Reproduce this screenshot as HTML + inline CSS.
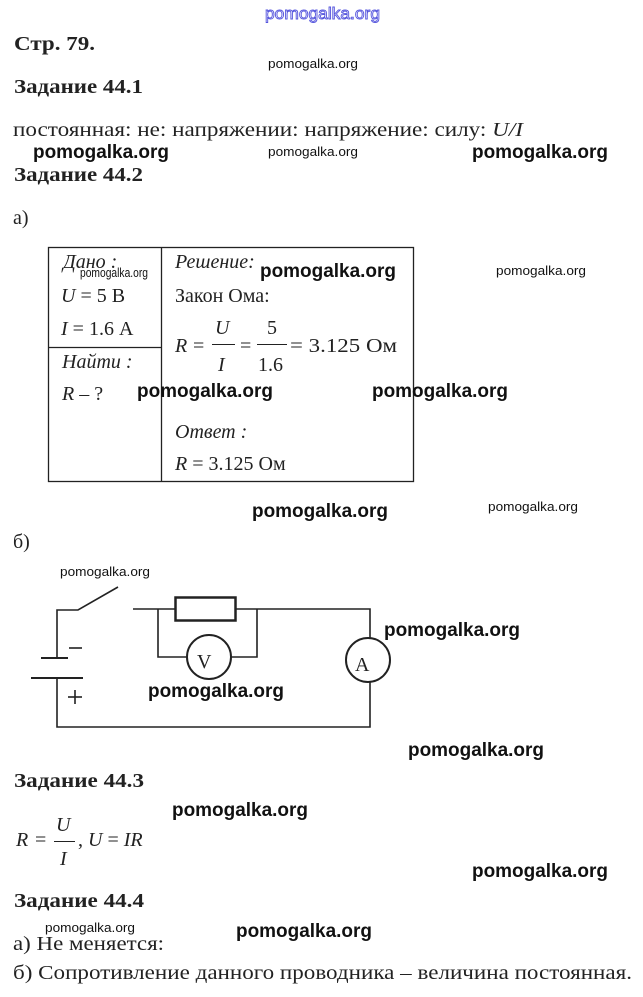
<!DOCTYPE html>
<html><head><meta charset="utf-8"><style>
html,body{margin:0;padding:0;background:#fff;}
svg{display:block;}
.s{font-family:"Liberation Serif",serif;fill:#222;font-size:20px;}
.b{font-weight:bold;}
.i{font-style:italic;}
.w{font-family:"Liberation Sans",sans-serif;font-weight:bold;fill:#111;font-size:19px;}
.ws{font-family:"Liberation Sans",sans-serif;fill:#111;font-size:13px;}
line,rect,circle,polyline{stroke:#222;fill:none;}
</style></head><body>
<svg width="643" height="997" viewBox="0 0 643 997" xmlns="http://www.w3.org/2000/svg">
<text x="265" y="19" font-family="Liberation Sans,sans-serif" font-size="17" fill="#fff" stroke="#5555dd" stroke-width="0.9" textLength="115" lengthAdjust="spacingAndGlyphs">pomogalka.org</text>

<text class="s b" x="14" y="50" font-size="22" textLength="81" lengthAdjust="spacingAndGlyphs">Стр. 79.</text>
<text class="ws" x="268" y="68" textLength="90" lengthAdjust="spacingAndGlyphs">pomogalka.org</text>
<text class="s b" x="14" y="93" font-size="22" textLength="129" lengthAdjust="spacingAndGlyphs">Задание 44.1</text>
<text class="s" x="13" y="136" font-size="21" textLength="510" lengthAdjust="spacingAndGlyphs">постоянная: не: напряжении: напряжение: силу: <tspan class="i">U/I</tspan></text>
<text class="w" x="33" y="158" textLength="136" lengthAdjust="spacingAndGlyphs">pomogalka.org</text>
<text class="ws" x="268" y="156" textLength="90" lengthAdjust="spacingAndGlyphs">pomogalka.org</text>
<text class="w" x="472" y="158" textLength="136" lengthAdjust="spacingAndGlyphs">pomogalka.org</text>
<text class="s b" x="14" y="181" font-size="22" textLength="129" lengthAdjust="spacingAndGlyphs">Задание 44.2</text>
<text class="s" x="13" y="224" font-size="21">а)</text>

<!-- table -->
<g stroke-width="1.3">
<rect x="48.5" y="247.5" width="365" height="234"/>
<line x1="161.5" y1="247" x2="161.5" y2="482"/>
<line x1="48" y1="347.5" x2="161" y2="347.5"/>
</g>
<text class="s i" x="63" y="268" fill="#444">Дано :</text>
<text class="ws" x="80" y="277" font-size="10" textLength="68" lengthAdjust="spacingAndGlyphs">pomogalka.org</text>
<text class="s" x="61" y="302"><tspan class="i">U</tspan> = 5 В</text>
<text class="s" x="61" y="335"><tspan class="i">I</tspan> = 1.6 А</text>
<text class="s i" x="62" y="368" fill="#444">Найти :</text>
<text class="s" x="62" y="400"><tspan class="i">R</tspan> – ?</text>
<text class="s i" x="175" y="268" fill="#444">Решение:</text>
<text class="w" x="260" y="277" textLength="136" lengthAdjust="spacingAndGlyphs">pomogalka.org</text>
<text class="ws" x="496" y="275" textLength="90" lengthAdjust="spacingAndGlyphs">pomogalka.org</text>
<text class="s" x="175" y="302">Закон Ома:</text>
<text class="s i" x="175" y="352">R</text>
<text class="s" x="193" y="352">=</text>
<text class="s i" x="215" y="334">U</text>
<line x1="212" y1="344.5" x2="235" y2="344.5" stroke-width="1"/>
<text class="s i" x="218" y="371">I</text>
<text class="s" x="240" y="352">=</text>
<text class="s" x="267" y="334">5</text>
<line x1="257" y1="344.5" x2="287" y2="344.5" stroke-width="1"/>
<text class="s" x="258" y="371">1.6</text>
<text class="s" x="290" y="352" textLength="107" lengthAdjust="spacingAndGlyphs">= 3.125 Ом</text>
<text class="w" x="137" y="397" textLength="136" lengthAdjust="spacingAndGlyphs">pomogalka.org</text>
<text class="w" x="372" y="397" textLength="136" lengthAdjust="spacingAndGlyphs">pomogalka.org</text>
<text class="s i" x="175" y="438" fill="#444">Ответ :</text>
<text class="s" x="175" y="470"><tspan class="i">R</tspan> = 3.125 Ом</text>

<text class="w" x="252" y="517" textLength="136" lengthAdjust="spacingAndGlyphs">pomogalka.org</text>
<text class="ws" x="488" y="511" textLength="90" lengthAdjust="spacingAndGlyphs">pomogalka.org</text>
<text class="s" x="13" y="548" font-size="21">б)</text>

<!-- circuit -->
<text class="ws" x="60" y="576" textLength="90" lengthAdjust="spacingAndGlyphs">pomogalka.org</text>
<g stroke-width="1.6">
<polyline points="57,658 57,610 78,610 118,587"/>
<line x1="133" y1="609" x2="175" y2="609"/>
<rect x="175.5" y="597.5" width="60" height="23" stroke-width="2.5"/>
<polyline points="236,609 370,609 370,638"/>
<polyline points="370,682 370,727 57,727 57,678"/>
<line x1="41" y1="658" x2="68" y2="658" stroke-width="2"/>
<line x1="31" y1="678" x2="83" y2="678" stroke-width="2"/>
<polyline points="158,609 158,657 187,657"/>
<polyline points="231,657 257,657 257,609"/>
<circle cx="209" cy="657" r="22" stroke-width="2"/>
<circle cx="368" cy="660" r="22" stroke-width="2"/>
<line x1="69" y1="648" x2="82" y2="648"/>
<line x1="68" y1="697" x2="82" y2="697"/>
<line x1="75" y1="690" x2="75" y2="704"/>
</g>
<text class="s" x="197" y="668" font-size="27">V</text>
<text class="s" x="355" y="671" font-size="27">A</text>
<text class="w" x="384" y="636" textLength="136" lengthAdjust="spacingAndGlyphs">pomogalka.org</text>
<text class="w" x="148" y="697" textLength="136" lengthAdjust="spacingAndGlyphs">pomogalka.org</text>
<text class="w" x="408" y="756" textLength="136" lengthAdjust="spacingAndGlyphs">pomogalka.org</text>

<text class="s b" x="14" y="787" font-size="22" textLength="130" lengthAdjust="spacingAndGlyphs">Задание 44.3</text>
<text class="w" x="172" y="816" textLength="136" lengthAdjust="spacingAndGlyphs">pomogalka.org</text>
<text class="s i" x="16" y="846">R</text>
<text class="s" x="35" y="846">=</text>
<text class="s i" x="56" y="831">U</text>
<line x1="54" y1="841.5" x2="75" y2="841.5" stroke-width="1"/>
<text class="s i" x="60" y="865">I</text>
<text class="s" x="78" y="846">, <tspan class="i">U</tspan> = <tspan class="i">IR</tspan></text>
<text class="w" x="472" y="877" textLength="136" lengthAdjust="spacingAndGlyphs">pomogalka.org</text>

<text class="s b" x="14" y="907" font-size="22" textLength="130" lengthAdjust="spacingAndGlyphs">Задание 44.4</text>
<text class="ws" x="45" y="932" textLength="90" lengthAdjust="spacingAndGlyphs">pomogalka.org</text>
<text class="w" x="236" y="937" textLength="136" lengthAdjust="spacingAndGlyphs">pomogalka.org</text>
<text class="s" x="13" y="950" font-size="21" textLength="151" lengthAdjust="spacingAndGlyphs">а) Не меняется:</text>
<text class="s" x="13" y="979" font-size="21" textLength="619" lengthAdjust="spacingAndGlyphs">б) Сопротивление данного проводника – величина постоянная.</text>
</svg>
</body></html>
